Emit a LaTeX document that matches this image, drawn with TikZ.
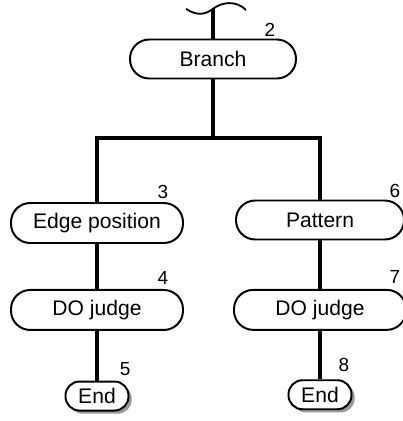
\documentclass[tikz,border=0pt]{standalone}
\usepackage{fontspec}
\setmainfont{Liberation Sans}
\usetikzlibrary{positioning, shadows}

\begin{document}
\begin{tikzpicture}[
    term/.style={draw, line width=1.4pt, fill=white, rounded corners=0.48cm, inner sep=0pt, minimum width=4.3cm, minimum height=1cm, font=\fontsize{15}{18}\selectfont},
    endbox/.style={term, rounded corners=0.35cm, minimum width=1.575cm, minimum height=0.725cm, drop shadow={shadow xshift=0.08cm, shadow yshift=-0.08cm, fill=gray!80, opacity=1}},
    num/.style={inner sep=0pt, font=\fontsize{13.5}{16}\selectfont},
    trunk/.style={line width=2.8pt, line join=miter},
    node distance=1.15cm
]
\useasboundingbox (0,0) rectangle (10.075,-10.525);

\node[term, minimum width=4.15cm, minimum height=0.975cm] (br) at (5.325,-1.475) {Branch};
\node[term] (ep) at (2.425,-5.575) {Edge position};
\node[term, below=1.125cm of ep] (dj1) {DO judge};
\node[endbox, below=1.24cm of dj1] (end1) {End};
\node[term, minimum width=4.2cm, minimum height=0.975cm] (pat) at (8.0,-5.5) {Pattern};
\node[term, below=1.21cm of pat] (dj2) {DO judge};
\node[endbox, below=1.21cm of dj2] (end2) {End};

% step numbers
\node[num] (n2) at (6.75,-0.75) {2};
\node[num] (n3) at (4.07,-4.8) {3};
\node[num] (n4) at (4.07,-6.95) {4};
\node[num] (n5) at (3.13,-9.22) {5};
\node[num] (n6) at (9.87,-4.78) {6};
\node[num] (n7) at (9.87,-6.93) {7};
\node[num] (n8) at (8.6,-9.12) {8};

% flow lines
\coordinate (top) at (5.325,-0.22);
\coordinate (split) at (5.325,-3.45);
\draw[trunk] (top) -- (br.north);
\draw[trunk] (br.south) -- (split);
\draw[trunk] (ep.north) -- (ep.north |- split) -- (pat.north |- split) -- (pat.north);
\draw[trunk] (ep) -- (dj1);
\draw[trunk] (dj1) -- (end1);
\draw[trunk] (pat) -- (dj2);
\draw[trunk] (dj2) -- (end2);

% break mark on top
\draw[line width=1.3pt] (4.65,-0.22) .. controls (4.95,-0.42) and (5.15,-0.35) .. (top)
    .. controls (5.55,-0.05) and (5.9,0.0) .. (6.15,-0.25);
\end{tikzpicture}
\end{document}
